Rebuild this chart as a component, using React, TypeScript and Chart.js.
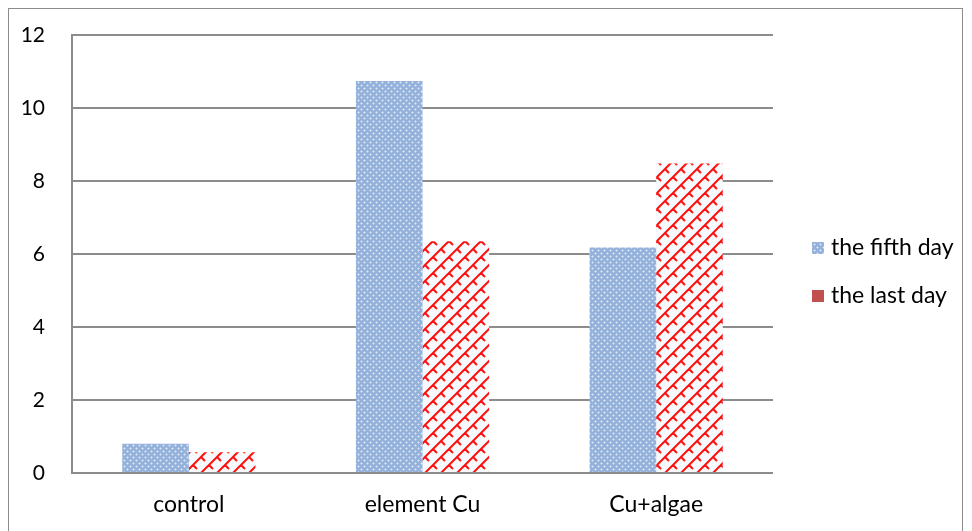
import React, { useEffect, useRef } from "react";
import { Chart, registerables } from "chart.js";

Chart.register(...registerables);

const categories = ["control", "element Cu", "Cu+algae"];
const fifthDay = [0.8, 10.74, 6.18];
const lastDay = [0.57, 6.35, 8.48];
const seriesNames = ["the fifth day", "the last day"];
const yTicks = [0, 2, 4, 6, 8, 10, 12];

const FONT = "Lato, 'Liberation Sans', sans-serif";

function makeBluePattern(ctx: CanvasRenderingContext2D): CanvasPattern | string {
  const c = document.createElement("canvas");
  c.width = 6;
  c.height = 6;
  const g = c.getContext("2d")!;
  g.fillStyle = "#93B1DB";
  g.fillRect(0, 0, 6, 6);
  g.fillStyle = "#DCE6F3";
  g.fillRect(1, 1, 1, 1);
  g.fillRect(4, 4, 1, 1);
  g.fillStyle = "#B9CCE8";
  g.fillRect(0, 1, 1, 1);
  g.fillRect(2, 1, 1, 1);
  g.fillRect(1, 0, 1, 1);
  g.fillRect(1, 2, 1, 1);
  g.fillRect(3, 4, 1, 1);
  g.fillRect(5, 4, 1, 1);
  g.fillRect(4, 3, 1, 1);
  g.fillRect(4, 5, 1, 1);
  return ctx.createPattern(c, "repeat") || "#93B1DB";
}

function makeRedPattern(ctx: CanvasRenderingContext2D): CanvasPattern | string {
  const s = 16;
  const c = document.createElement("canvas");
  c.width = s;
  c.height = s;
  const g = c.getContext("2d")!;
  g.fillStyle = "#F7FAFD";
  g.fillRect(0, 0, s, s);
  g.strokeStyle = "#FF1010";
  g.lineWidth = 2;
  g.beginPath();
  g.moveTo(-2, s + 2);
  g.lineTo(s + 2, -2);
  g.moveTo(-2, 2);
  g.lineTo(2, -2);
  g.moveTo(s - 2, s + 2);
  g.lineTo(s + 2, s - 2);
  g.moveTo(8, 8);
  g.lineTo(12, 12);
  g.moveTo(0, 0);
  g.lineTo(4, 4);
  g.moveTo(16, 0);
  g.lineTo(20, 4);
  g.moveTo(0, 16);
  g.lineTo(4, 20);
  g.moveTo(-8, 8);
  g.lineTo(-4, 12);
  g.stroke();
  return ctx.createPattern(c, "repeat") || "#FF1010";
}

export default function App() {
  const ref = useRef<HTMLCanvasElement | null>(null);

  useEffect(() => {
    const canvas = ref.current;
    if (!canvas) return;
    const ctx = canvas.getContext("2d")!;
    const blue = makeBluePattern(ctx);
    const red = makeRedPattern(ctx);

    const legendPlugin = {
      id: "customLegend",
      afterDraw(chart: any) {
        const c = chart.ctx as CanvasRenderingContext2D;
        const items = [
          { label: seriesNames[0], fill: blue, y: 239 },
          { label: seriesNames[1], fill: "#C0504D", y: 287 },
        ];
        c.save();
        items.forEach((it) => {
          c.fillStyle = it.fill as any;
          c.fillRect(803, it.y - 6, 12, 12);
          c.fillStyle = "#000";
          c.font = `23px ${FONT}`;
          c.textBaseline = "middle";
          c.textAlign = "left";
          c.fillText(it.label, 822, it.y);
        });
        c.restore();
      },
    };

    const chart = new Chart(canvas, {
      type: "bar",
      data: {
        labels: categories,
        datasets: [
          {
            label: seriesNames[0],
            data: fifthDay,
            backgroundColor: blue as any,
            borderWidth: 0,
            categoryPercentage: 0.57,
            barPercentage: 1.0,
          },
          {
            label: seriesNames[1],
            data: lastDay,
            backgroundColor: red as any,
            borderWidth: 0,
            categoryPercentage: 0.57,
            barPercentage: 1.0,
          },
        ],
      },
      options: {
        animation: false,
        responsive: false,
        maintainAspectRatio: false,
        layout: { padding: { top: 26, right: 189, bottom: 0, left: 0 } },
        plugins: {
          legend: { display: false },
          tooltip: { enabled: false },
        },
        scales: {
          x: {
            grid: { display: false, drawTicks: false },
            border: { display: false },
            ticks: {
              color: "#000",
              font: { family: FONT, size: 23 },
              padding: 18,
            },
            afterFit(scale: any) {
              scale.height = 59;
            },
          },
          y: {
            min: 0,
            max: 12,
            afterBuildTicks(scale: any) {
              scale.ticks = yTicks.map((v) => ({ value: v }));
            },
            grid: { color: "#8C8C8C", lineWidth: 2, drawTicks: false },
            border: { display: true, color: "#8C8C8C", width: 2 },
            ticks: {
              color: "#000",
              font: { family: FONT, size: 21 },
              padding: 27,
            },
            afterFit(scale: any) {
              scale.width = 63;
              scale.paddingTop = 0;
              scale.paddingBottom = 0;
            },
          },
        },
      },
      plugins: [legendPlugin],
    } as any);

    return () => chart.destroy();
  }, []);

  return (
    <div
      style={{
        width: 953,
        height: 523,
        borderLeft: "1px solid #8C8C8C",
        borderTop: "1px solid #8C8C8C",
        borderRight: "1px solid #8C8C8C",
        background: "#fff",
      }}
    >
      <canvas ref={ref} width={953} height={523} style={{ display: "block" }} />
    </div>
  );
}
